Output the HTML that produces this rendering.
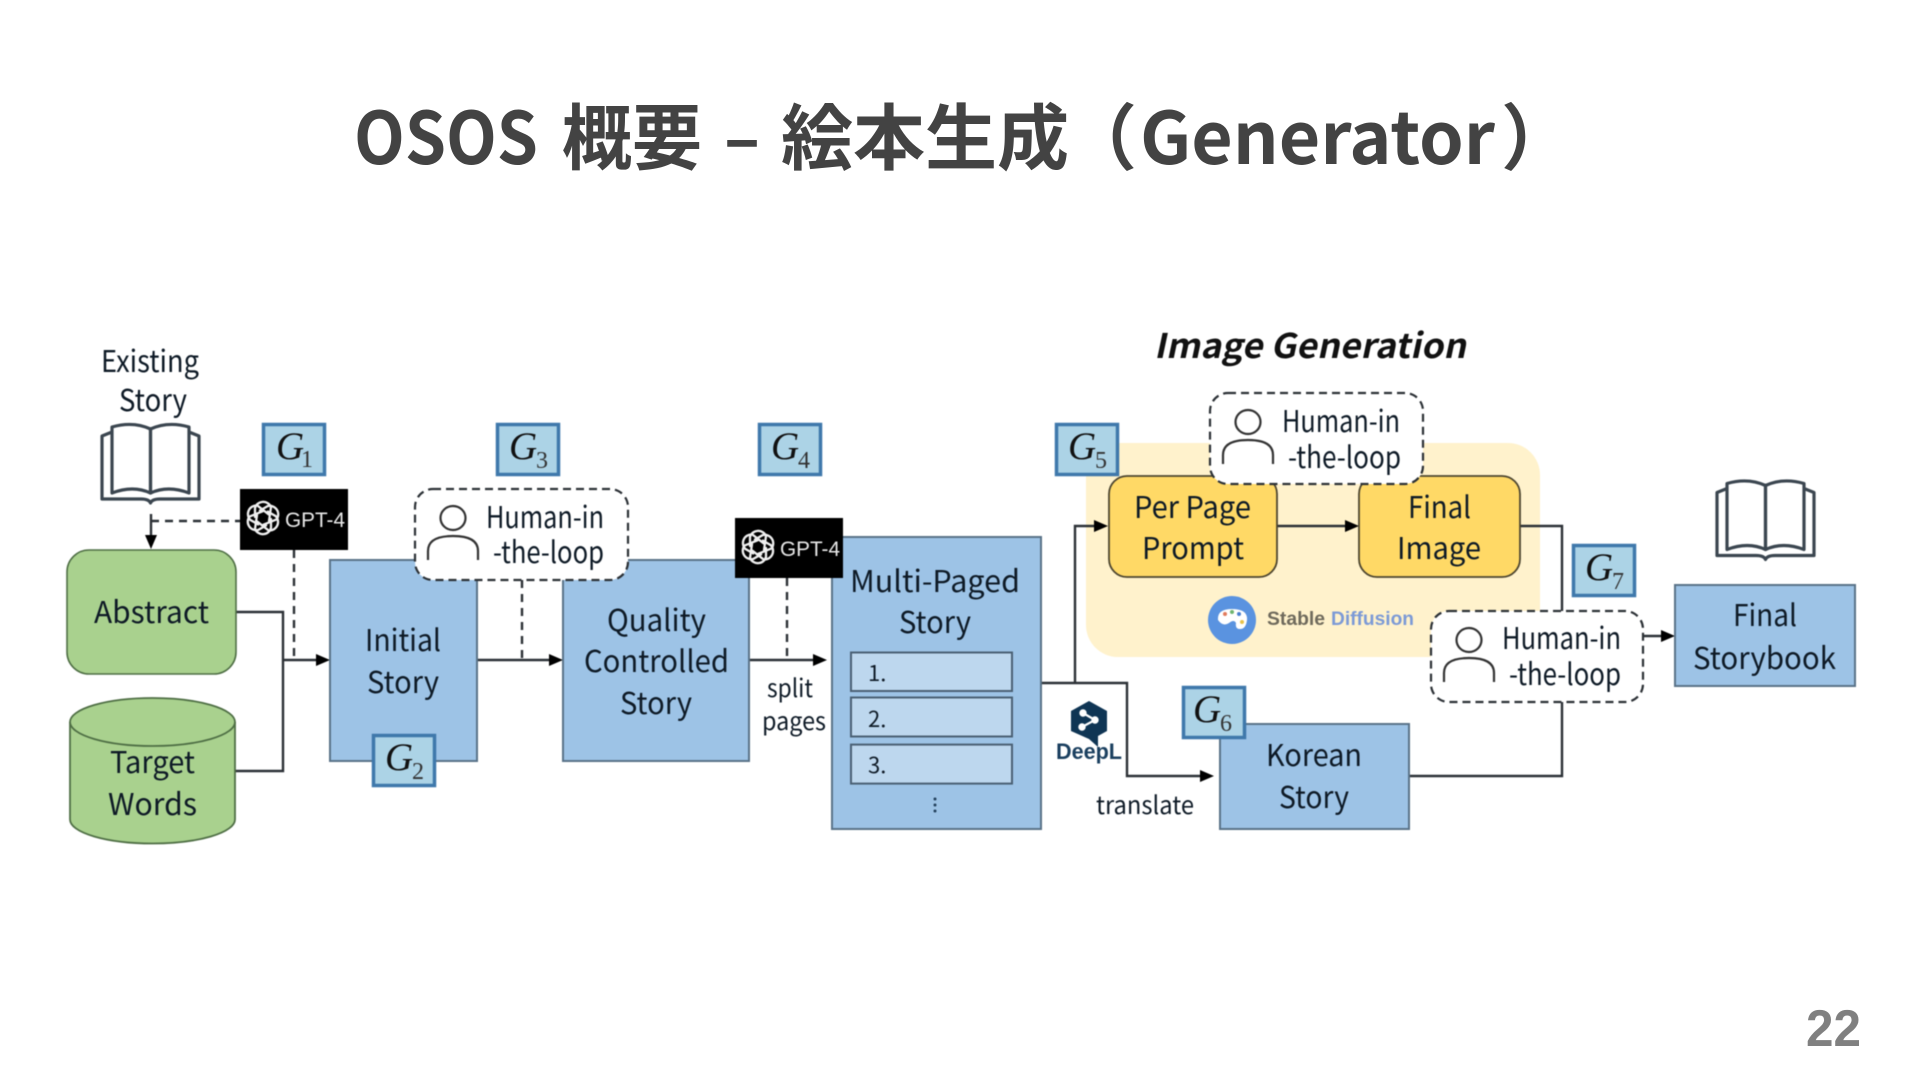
<!DOCTYPE html>
<html lang="ja">
<head>
<meta charset="utf-8">
<title>OSOS 概要 – 絵本生成（Generator）</title>
<style>
html,body{margin:0;padding:0;background:#fff;width:1920px;height:1080px;overflow:hidden}
svg{display:block}
.t{font-family:"Noto Sans CJK JP","Liberation Sans",sans-serif;font-size:30px;fill:#0e1a26}
.h{font-family:"Noto Sans CJK JP","Liberation Sans",sans-serif;font-weight:700;font-size:72px;fill:#434343}
.g{font-family:"Liberation Serif",serif;font-style:italic;font-size:39px;fill:#111}
.s{font-family:"Liberation Serif",serif;font-size:24px;fill:#333}
.gb{fill:#acd3e6;stroke:#3f78ab;stroke-width:3.5}
.b{fill:#9dc3e6;stroke:#5a7388;stroke-width:2}
.ln{fill:none;stroke:#2c3136;stroke-width:2.4}
.ds{fill:none;stroke:#2c3136;stroke-width:2.4;stroke-dasharray:8 6}
.ar{fill:#000}
.gpt{font-family:"Liberation Sans",sans-serif;font-size:21px;fill:#e8e8e8}
</style>
</head>
<body>
<svg width="1920" height="1080" viewBox="0 0 1920 1080" xmlns="http://www.w3.org/2000/svg">
<defs>
<symbol id="book" viewBox="0 0 99 85" overflow="visible">
<g fill="none" stroke="#3b4650" stroke-width="3.2" stroke-linejoin="round">
<path d="M11 12 L1 16 V79 H40 Q48 79 49.5 83 Q51 79 59 79 H98 V16 L88 12"/>
<path d="M11 73 V7 Q32 1 49.5 9 V73 Q32 65 11 73 Z"/>
<path d="M88 73 V7 Q67 1 49.5 9 V73 Q67 65 88 73 Z"/>
</g>
</symbol>
<symbol id="logo" viewBox="0 0 40 40" overflow="visible">
<g fill="none" stroke="#f0f0f0" stroke-width="2.3" stroke-linecap="round">
<path id="pt" d="M12 19 V10 a8.5 8.5 0 0 1 16 -1 L26 23"/>
<use href="#pt" transform="rotate(60 20 20)"/>
<use href="#pt" transform="rotate(120 20 20)"/>
<use href="#pt" transform="rotate(180 20 20)"/>
<use href="#pt" transform="rotate(240 20 20)"/>
<use href="#pt" transform="rotate(300 20 20)"/>
</g>
</symbol>
<symbol id="person" viewBox="0 0 60 60" overflow="visible">
<g fill="none" stroke="#333" stroke-width="2.2">
<ellipse cx="30" cy="13" rx="12.5" ry="12"/>
<path d="M5 55 V46 Q5 31 30 31 Q55 31 55 46 V55"/>
</g>
</symbol>
</defs>

<!-- Title -->
<text class="h" x="354" y="164" textLength="184" lengthAdjust="spacingAndGlyphs">OSOS</text>
<text class="h" x="562" y="164" textLength="140" lengthAdjust="spacingAndGlyphs">概要</text>
<text class="h" x="724" y="164" textLength="36" lengthAdjust="spacingAndGlyphs">–</text>
<text class="h" x="781" y="164" textLength="288" lengthAdjust="spacingAndGlyphs">絵本生成</text>
<text class="h" x="1065" y="164">（</text>
<text class="h" x="1140" y="164" textLength="355" lengthAdjust="spacingAndGlyphs">Generator</text>
<text class="h" x="1501" y="164">）</text>

<!-- Page number -->
<text x="1806" y="1046" font-family="Liberation Sans, sans-serif" font-weight="700" font-size="52" fill="#808080" textLength="55" lengthAdjust="spacingAndGlyphs">22</text>

<g style="filter:blur(.45px)">
<!-- yellow area -->
<rect x="1086" y="443" width="454" height="214" rx="32" fill="#fff2cc"/>

<!-- connectors -->
<path class="ln" d="M236 612 H283 V771 H235"/>
<path class="ln" d="M283 660 H320"/><polygon class="ar" points="330,660 316,654 316,666"/>
<path class="ln" d="M477 660 H553"/><polygon class="ar" points="563,660 549,654 549,666"/>
<path class="ln" d="M749 660 H816"/><polygon class="ar" points="827,660 813,654 813,666"/>
<path class="ln" d="M1041 683 H1127 V776 H1202"/><polygon class="ar" points="1214,776 1200,770 1200,782"/>
<path class="ln" d="M1075 683 V526 H1096"/><polygon class="ar" points="1108,526 1094,520 1094,532"/>
<path class="ln" d="M1277 526 H1349"/><polygon class="ar" points="1359,526 1345,520 1345,532"/>
<path class="ln" d="M1520 526 H1562 V611"/>
<path class="ln" d="M1562 702 V776 H1409"/>
<path class="ln" d="M1644 636 H1664"/><polygon class="ar" points="1675,636 1661,630 1661,642"/>
<path class="ln" d="M151 514 V538"/><polygon class="ar" points="151,549 145,535 157,535"/>
<path class="ds" d="M151 521 H240"/>
<path class="ds" d="M294 550 V660"/>
<path class="ds" d="M522 580 V660"/>
<path class="ds" d="M787 578 V660"/>

<!-- books -->
<use href="#book" x="101" y="418" width="99" height="89"/>
<use href="#book" x="1716" y="475" width="99" height="88"/>

<!-- Green -->
<rect x="67" y="550" width="169" height="124" rx="22" fill="#a9d18e" stroke="#4f6f45" stroke-width="1.6"/>
<path d="M70 722 V819.5 A82.5 24 0 0 0 235 819.5 V722 A82.5 24 0 0 0 70 722 Z" fill="#a9d18e" stroke="#4f6f45" stroke-width="1.8"/>
<path d="M70 722 A82.5 24 0 0 0 235 722" fill="none" stroke="#4f6f45" stroke-width="1.8"/>

<!-- Blue boxes -->
<rect class="b" x="330" y="560" width="147" height="201"/>
<rect class="b" x="563" y="560" width="186" height="201"/>
<rect class="b" x="832" y="537" width="209" height="292"/>
<rect x="851" y="652.5" width="161" height="38.5" fill="#bdd7ee" stroke="#4a6074" stroke-width="2"/>
<rect x="851" y="697.5" width="161" height="39" fill="#bdd7ee" stroke="#4a6074" stroke-width="2"/>
<rect x="851" y="744.6" width="161" height="39" fill="#bdd7ee" stroke="#4a6074" stroke-width="2"/>
<rect class="b" x="1220" y="724" width="189" height="105"/>
<rect class="b" x="1675" y="585" width="180" height="101"/>

<!-- Yellow boxes -->
<rect x="1109" y="476" width="168" height="101" rx="18" fill="#ffd966" stroke="#4d4630" stroke-width="1.8"/>
<rect x="1359" y="476" width="161" height="101" rx="18" fill="#ffd966" stroke="#4d4630" stroke-width="1.8"/>

<!-- Human boxes -->
<rect x="415" y="489" width="213" height="91" rx="18" fill="#fff" stroke="#2c3136" stroke-width="2.2" stroke-dasharray="8 5"/>
<use href="#person" x="423" y="505" width="60" height="60"/>
<rect x="1210" y="393" width="213" height="91" rx="18" fill="#fff" stroke="#2c3136" stroke-width="2.2" stroke-dasharray="8 5"/>
<use href="#person" x="1218" y="409" width="60" height="60"/>
<rect x="1431" y="611" width="212" height="91" rx="18" fill="#fff" stroke="#2c3136" stroke-width="2.2" stroke-dasharray="8 5"/>
<use href="#person" x="1439" y="627" width="60" height="60"/>

<!-- GPT boxes -->
<rect x="240" y="489" width="108" height="61" fill="#000"/>
<use href="#logo" x="243" y="498" width="40" height="40"/>
<text class="gpt" x="285" y="527" textLength="60" lengthAdjust="spacingAndGlyphs">GPT-4</text>
<rect x="735" y="518" width="108" height="60" fill="#000"/>
<use href="#logo" x="738" y="527" width="40" height="40"/>
<text class="gpt" x="780" y="556" textLength="60" lengthAdjust="spacingAndGlyphs">GPT-4</text>

<!-- G boxes -->
<rect class="gb" x="263.5" y="424.5" width="61" height="50"/>
<text class="g" x="276" y="459">G</text><text class="s" x="301" y="467">1</text>
<rect class="gb" x="373.5" y="735.5" width="61" height="50"/>
<text class="g" x="385" y="770">G</text><text class="s" x="412" y="779">2</text>
<rect class="gb" x="497.5" y="424.5" width="61" height="50"/>
<text class="g" x="509" y="459">G</text><text class="s" x="536" y="468">3</text>
<rect class="gb" x="759.5" y="424.5" width="61" height="50"/>
<text class="g" x="771" y="459">G</text><text class="s" x="798" y="468">4</text>
<rect class="gb" x="1056.5" y="424.5" width="61" height="50"/>
<text class="g" x="1068" y="459">G</text><text class="s" x="1095" y="468">5</text>
<rect class="gb" x="1183.5" y="687.5" width="61" height="50"/>
<text class="g" x="1193" y="722">G</text><text class="s" x="1220" y="731">6</text>
<rect class="gb" x="1573.5" y="545.5" width="61" height="50"/>
<text class="g" x="1585" y="580">G</text><text class="s" x="1612" y="589">7</text>

<!-- Labels -->
<text class="t" x="101" y="372" textLength="98" lengthAdjust="spacingAndGlyphs">Existing</text>
<text class="t" x="119" y="411" textLength="68" lengthAdjust="spacingAndGlyphs">Story</text>
<text class="t" x="94" y="623" textLength="115" lengthAdjust="spacingAndGlyphs">Abstract</text>
<text class="t" x="110" y="773" textLength="85" lengthAdjust="spacingAndGlyphs">Target</text>
<text class="t" x="108" y="815" textLength="89" lengthAdjust="spacingAndGlyphs">Words</text>
<text class="t" x="365" y="651" textLength="76" lengthAdjust="spacingAndGlyphs">Initial</text>
<text class="t" x="367" y="693" textLength="72" lengthAdjust="spacingAndGlyphs">Story</text>
<text class="t" x="486" y="528" textLength="118" lengthAdjust="spacingAndGlyphs">Human-in</text>
<text class="t" x="493" y="563" textLength="111" lengthAdjust="spacingAndGlyphs">-the-loop</text>
<text class="t" x="607" y="631" textLength="99" lengthAdjust="spacingAndGlyphs">Quality</text>
<text class="t" x="584" y="672" textLength="145" lengthAdjust="spacingAndGlyphs">Controlled</text>
<text class="t" x="620" y="714" textLength="72" lengthAdjust="spacingAndGlyphs">Story</text>
<text class="t" x="850" y="592" textLength="170" lengthAdjust="spacingAndGlyphs">Multi-Paged</text>
<text class="t" x="899" y="633" textLength="72" lengthAdjust="spacingAndGlyphs">Story</text>
<text class="t" x="868" y="681" style="font-size:22px">1.</text>
<text class="t" x="868" y="727" style="font-size:22px">2.</text>
<text class="t" x="868" y="773" style="font-size:22px">3.</text>
<g fill="#24405c"><circle cx="935" cy="799" r="1.5"/><circle cx="935" cy="805" r="1.5"/><circle cx="935" cy="811" r="1.5"/></g>
<text class="t" x="767" y="697" textLength="46" lengthAdjust="spacingAndGlyphs" style="font-size:25px">split</text>
<text class="t" x="762" y="730" textLength="64" lengthAdjust="spacingAndGlyphs" style="font-size:25px">pages</text>
<text class="t" x="1096" y="814" textLength="98" lengthAdjust="spacingAndGlyphs" style="font-size:25px">translate</text>
<text class="t" x="1266" y="766" textLength="96" lengthAdjust="spacingAndGlyphs">Korean</text>
<text class="t" x="1279" y="808" textLength="70" lengthAdjust="spacingAndGlyphs">Story</text>
<text class="t" x="1134" y="518" textLength="117" lengthAdjust="spacingAndGlyphs">Per Page</text>
<text class="t" x="1142" y="559" textLength="102" lengthAdjust="spacingAndGlyphs">Prompt</text>
<text class="t" x="1408" y="518" textLength="63" lengthAdjust="spacingAndGlyphs">Final</text>
<text class="t" x="1397" y="559" textLength="84" lengthAdjust="spacingAndGlyphs">Image</text>
<text class="t" x="1282" y="432" textLength="118" lengthAdjust="spacingAndGlyphs">Human-in</text>
<text class="t" x="1288" y="468" textLength="113" lengthAdjust="spacingAndGlyphs">-the-loop</text>
<text class="t" x="1502" y="649" textLength="119" lengthAdjust="spacingAndGlyphs">Human-in</text>
<text class="t" x="1509" y="685" textLength="112" lengthAdjust="spacingAndGlyphs">-the-loop</text>
<text class="t" x="1733" y="626" textLength="64" lengthAdjust="spacingAndGlyphs">Final</text>
<text class="t" x="1693" y="669" textLength="143" lengthAdjust="spacingAndGlyphs">Storybook</text>

<!-- Image Generation -->
<text transform="translate(1154 358) skewX(-12)" font-family="Noto Sans CJK JP, Liberation Sans, sans-serif" font-weight="700" font-size="34" fill="#111" textLength="312" lengthAdjust="spacingAndGlyphs">Image Generation</text>

<!-- Stable Diffusion -->
<circle cx="1238" cy="622" r="24" fill="#5a93e0" transform="translate(-6 -2)"/>
<path d="M1218 620 Q1217 609 1232 609 Q1248 609 1247 620 Q1246 629 1240 629 Q1235 629 1236 623 Q1234 619 1229 623 Q1223 627 1218 620 Z" fill="#fff"/>
<g><circle cx="1225" cy="614" r="2" fill="#e27a5c"/><circle cx="1232" cy="612" r="2" fill="#6fb56f"/><circle cx="1239" cy="614" r="2" fill="#4a80d0"/><circle cx="1242" cy="622" r="2" fill="#e8c34c"/></g>
<text x="1272" y="628" font-family="Liberation Sans, sans-serif" font-weight="700" font-size="19" fill="#6f6a5c" textLength="58" lengthAdjust="spacingAndGlyphs" transform="translate(-5 -3)">Stable</text>
<text x="1337" y="628" font-family="Liberation Sans, sans-serif" font-weight="700" font-size="19" fill="#7c9ad6" textLength="83" lengthAdjust="spacingAndGlyphs" transform="translate(-6 -3)">Diffusion</text>

<!-- DeepL -->
<path d="M1094 704 L1112 714 V734 L1103 739 V750 L1094 742 L1076 734 V714 Z" fill="#0f3554" transform="translate(-5 -3)"/>
<g stroke="#fff" stroke-width="2.2" fill="#fff"><path d="M1083 713 L1095 720 L1082 727" fill="none"/><circle cx="1083" cy="713" r="2.6"/><circle cx="1095" cy="720" r="2.6"/><circle cx="1082" cy="727" r="2.6"/></g>
<text x="1056" y="759" font-family="Liberation Sans, sans-serif" font-weight="700" font-size="22" fill="#1a3f5f" textLength="66" lengthAdjust="spacingAndGlyphs">DeepL</text>
</g>
</svg>
</body>
</html>
